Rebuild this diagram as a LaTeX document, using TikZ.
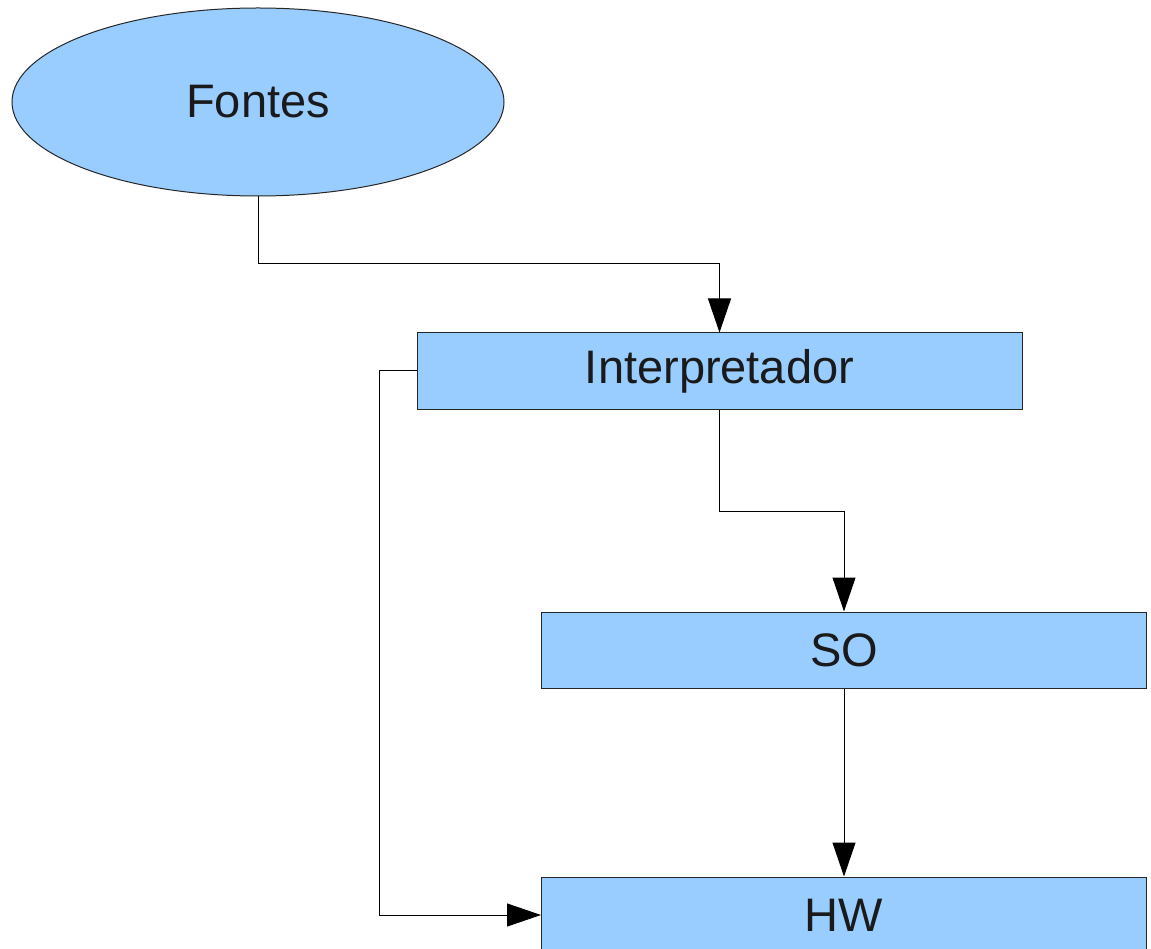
\documentclass[tikz,border=0pt]{standalone}
\usepackage{fontspec}
\setmainfont{Liberation Sans}
\usetikzlibrary{arrows.meta,shapes.geometric}
\definecolor{boxfill}{HTML}{99CCFF}
\definecolor{txt}{HTML}{1A1A1A}
\tikzset{
  base/.style={fill=boxfill, draw=black!85, line width=1pt, inner sep=0pt,
    text=txt, font=\fontsize{47}{56}\selectfont},
  procbox/.style={base, rectangle, minimum width=605pt, minimum height=76pt},
  ovalnode/.style={base, ellipse, minimum width=492pt, minimum height=188pt},
  conn/.style={draw=black, line width=1pt, -{Triangle[length=34pt,width=23pt]}}
}
\begin{document}
\begin{tikzpicture}[x=1pt,y=-1pt]
\useasboundingbox (0,0) rectangle (1151,949);
\node[ovalnode] (fontes) at (258,102) {\raisebox{-2pt}{Fontes}};
\node[procbox] (interp) at (719.5,371) {\raisebox{-2pt}{Interpretador}};
\node[procbox] (so) at (844,650) {\raisebox{-2pt}{SO}};
\node[procbox] (hw) at (844,915) {\raisebox{-2pt}{HW}};
\draw[conn] (fontes.south) -- (258,264) -- (719.5,264) -- (interp.north);
\draw[conn] (interp.south) -- (719.5,511) -- (844,511) -- (so.north);
\draw[conn] (so.south) -- (hw.north);
\draw[conn] (interp.west) -- (379,371) |- (hw.west);
\end{tikzpicture}
\end{document}
